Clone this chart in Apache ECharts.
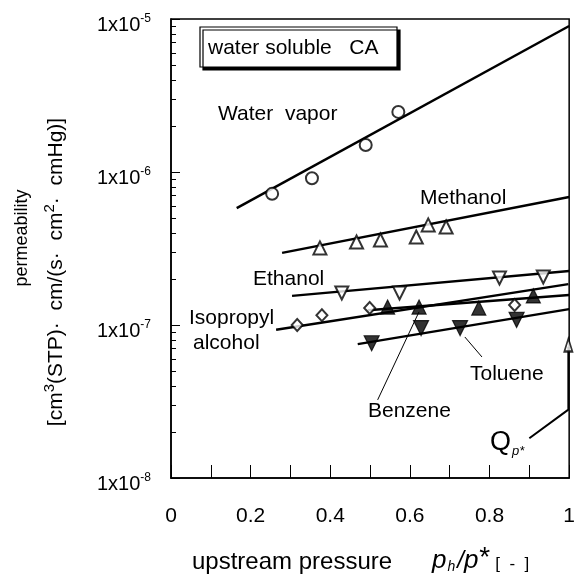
<!DOCTYPE html>
<html>
<head>
<meta charset="utf-8">
<script src="https://cdn.jsdelivr.net/npm/echarts@6/dist/echarts.min.js"></script>
<style>
html, body { margin: 0; padding: 0; background: #fff; }
#chart { width: 578px; height: 575px; }
</style>
</head>
<body>
<div id="chart"></div>
<script>
// measured permeabilities, x = p_h/p*
const waterX = [0.254, 0.354, 0.489, 0.571]
const waterY = [7.2e-7, 9.1e-7, 1.5e-6, 2.47e-6]
const waterFitX = [0.165, 1.0]
const waterFitY = [5.8e-7, 9.0e-6]

const methanolX = [0.374, 0.466, 0.526, 0.616, 0.646, 0.691]
const methanolY = [3.19e-7, 3.49e-7, 3.59e-7, 3.76e-7, 4.51e-7, 4.37e-7]
const methanolFitX = [0.279, 1.0]
const methanolFitY = [2.96e-7, 6.87e-7]

const ethanolX = [0.429, 0.574, 0.825, 0.935]
const ethanolY = [1.62e-7, 1.62e-7, 2.03e-7, 2.06e-7]
const ethanolFitX = [0.304, 1.0]
const ethanolFitY = [1.55e-7, 2.25e-7]

const ipaX = [0.317, 0.379, 0.499, 0.863]
const ipaY = [1.0e-7, 1.16e-7, 1.29e-7, 1.35e-7]
const ipaFitX = [0.264, 0.998]
const ipaFitY = [9.3e-8, 1.85e-7]

const benzeneX = [0.544, 0.623, 0.773, 0.910]
const benzeneY = [1.31e-7, 1.31e-7, 1.29e-7, 1.55e-7]
const benzeneFitX = [0.494, 1.0]
const benzeneFitY = [1.25e-7, 1.57e-7]

const tolueneX = [0.504, 0.628, 0.726, 0.868]
const tolueneY = [7.6e-8, 9.55e-8, 9.55e-8, 1.08e-7]
const tolueneFitX = [0.469, 1.0]
const tolueneFitY = [7.5e-8, 1.27e-7]

// leader lines for labels
const benzeneLeadX = [0.519, 0.623]
const benzeneLeadY = [3.24e-8, 1.22e-7]
const tolueneLeadX = [0.738, 0.781]
const tolueneLeadY = [8.35e-8, 6.18e-8]
const qLeadX = [0.900, 0.998, 0.998]
const qLeadY = [1.82e-8, 2.8e-8, 7.2e-8]
const qArrowX = [0.998]
const qArrowY = [7.4e-8]

const xTickLabels = ['0', '0.2', '0.4', '0.6', '0.8', '1']
const yDecades = [1e-8, 1e-7, 1e-6, 1e-5]

const FONT = 'Liberation Sans, Arial, sans-serif'

function zip(xs, ys) {
  return xs.map((x, i) => [x, ys[i]])
}

const minorVals = []
yDecades.slice(0, 3).forEach((d) => {
  for (let k = 2; k <= 9; k++) minorVals.push(d * k)
})

function fit(xs, ys) {
  return {
    type: 'line',
    data: zip(xs, ys),
    symbol: 'none',
    lineStyle: { color: '#000', width: 2.5 },
    silent: true,
    z: 2
  }
}

function lead(xs, ys, w) {
  return {
    type: 'line',
    data: zip(xs, ys),
    symbol: 'none',
    lineStyle: { color: '#000', width: w || 1 },
    silent: true,
    clip: false,
    z: 2
  }
}

function pts(xs, ys, symbol, size, rotate) {
  return {
    type: 'scatter',
    data: zip(xs, ys),
    symbol,
    symbolSize: size,
    symbolRotate: rotate || 0,
    itemStyle: { color: '#000', borderColor: '#000', borderWidth: 1.2 },
    silent: true,
    clip: false,
    z: 3
  }
}

function label(text, x, y) {
  return { type: 'text', x, y, z: 11, style: { text, font: '21px ' + FONT, fill: '#000', verticalAlign: 'middle' } }
}

const chart = echarts.init(document.getElementById('chart'))

chart.setOption({
  animation: false,
  backgroundColor: '#fff',
  textStyle: { fontFamily: FONT, color: '#000' },
  grid: {
    left: 171, right: 5, top: 19, bottom: 97,
    show: true, borderColor: '#000', borderWidth: 1.5
  },
  xAxis: {
    type: 'value',
    min: 0,
    max: 1,
    interval: 0.1,
    axisLine: { lineStyle: { color: '#000', width: 1.5 } },
    axisTick: { inside: true, length: 13, lineStyle: { color: '#000', width: 1 } },
    axisLabel: {
      margin: 28,
      fontSize: 21,
      color: '#000',
      fontFamily: FONT,
      formatter: (v) => {
        const n = Math.round(v * 10)
        return n % 2 === 0 ? xTickLabels[n / 2] : ''
      }
    },
    splitLine: { show: false }
  },
  yAxis: [
    {
      type: 'log',
      logBase: 10,
      min: 1e-8,
      max: 1e-5,
      axisLine: { lineStyle: { color: '#000', width: 1.5 } },
      axisTick: { inside: true, length: 9, lineStyle: { color: '#000', width: 1 } },
      axisLabel: {
        margin: 20,
        formatter: (v) => '{b|1x10}{sup|' + Math.round(Math.log10(v)) + '}',
        rich: {
          b: { fontSize: 20, fontFamily: FONT, color: '#000', padding: [13, 0, 0, 0] },
          sup: { fontSize: 12, fontFamily: FONT, color: '#000' }
        }
      },
      splitLine: { show: false }
    },
    {
      type: 'log',
      logBase: 10,
      min: 1e-8,
      max: 1e-5,
      position: 'left',
      axisLine: { show: false },
      axisLabel: { show: false },
      axisTick: { show: true, inside: true, length: 5, customValues: minorVals, lineStyle: { color: '#000', width: 1 } },
      splitLine: { show: false }
    }
  ],
  graphic: [
    {
      type: 'rect',
      shape: { x: 200, y: 27, width: 197, height: 40 },
      style: { fill: '#fff', stroke: '#000', lineWidth: 1.2, shadowColor: '#000', shadowOffsetX: 3, shadowOffsetY: 3, shadowBlur: 0 },
      z: 10
    },
    label('water soluble   CA', 208, 48),
    label('Water  vapor', 218, 114),
    label('Methanol', 420, 198),
    label('Ethanol', 253, 279),
    label('Isopropyl', 189, 318),
    label('alcohol', 193, 343),
    label('Toluene', 470, 374),
    label('Benzene', 368, 411),
    // gap in the right frame where the Q_p* leader enters
    { type: 'rect', shape: { x: 570, y: 414, width: 8, height: 24 }, style: { fill: '#fff' }, z: 9 },
    {
      type: 'text', x: 490, y: 443, z: 11,
      style: {
        text: '{q|Q}{s|p*}',
        verticalAlign: 'middle',
        fill: '#000',
        rich: {
          q: { fontSize: 27, fontFamily: FONT, fill: '#000' },
          s: { fontSize: 13, fontFamily: FONT, fontStyle: 'italic', fill: '#000', padding: [16, 0, 0, 1] }
        }
      }
    },
    {
      type: 'text', x: 22, y: 238, rotation: Math.PI / 2, z: 11,
      style: { text: 'permeability', font: '18px ' + FONT, fill: '#000', align: 'center', verticalAlign: 'middle' }
    },
    {
      type: 'text', x: 56, y: 272, rotation: Math.PI / 2, z: 11,
      style: {
        text: '[cm{sup|3}(STP)·  cm/(s·  cm{sup|2}·  cmHg)]',
        align: 'center',
        verticalAlign: 'middle',
        fontSize: 21,
        fontFamily: FONT,
        fill: '#000',
        rich: {
          sup: { fontSize: 15, fontFamily: FONT, fill: '#000', padding: [0, 0, 13, 0] }
        }
      }
    },
    {
      type: 'text', x: 192, y: 562, z: 11,
      style: { text: 'upstream pressure', font: '24px ' + FONT, fill: '#000', verticalAlign: 'middle' }
    },
    {
      type: 'text', x: 432, y: 561, z: 11,
      style: {
        text: '{i|p}{sub|h}{sl|/}{i|p}{star|*}{br|[  -  ]}',
        verticalAlign: 'middle',
        fill: '#000',
        rich: {
          i: { fontSize: 26, fontFamily: FONT, fontStyle: 'italic', fill: '#000' },
          sl: { fontSize: 24, fontFamily: FONT, fontStyle: 'italic', fill: '#000', padding: [0, 0, 0, 2] },
          sub: { fontSize: 14, fontFamily: FONT, fontStyle: 'italic', fill: '#000', padding: [12, 0, 0, 1] },
          star: { fontSize: 28, fontFamily: FONT, fill: '#000', padding: [0, 0, 6, 1] },
          br: { fontSize: 17, fontFamily: FONT, fill: '#000', padding: [6, 0, 0, 5] }
        }
      }
    }
  ],
  series: [
    fit(waterFitX, waterFitY),
    fit(methanolFitX, methanolFitY),
    fit(ethanolFitX, ethanolFitY),
    fit(ipaFitX, ipaFitY),
    fit(benzeneFitX, benzeneFitY),
    fit(tolueneFitX, tolueneFitY),
    lead(benzeneLeadX, benzeneLeadY),
    lead(tolueneLeadX, tolueneLeadY),
    lead(qLeadX, qLeadY, 2),
    pts(qArrowX, qArrowY, 'emptyTriangle', [8, 13]),
    pts(waterX, waterY, 'emptyCircle', 12),
    pts(methanolX, methanolY, 'emptyTriangle', 13),
    pts(ethanolX, ethanolY, 'emptyTriangle', 13, 180),
    pts(ipaX, ipaY, 'emptyDiamond', [11, 12]),
    pts(benzeneX, benzeneY, 'triangle', 14),
    pts(tolueneX, tolueneY, 'triangle', 15, 180)
  ]
})
</script>
</body>
</html>
